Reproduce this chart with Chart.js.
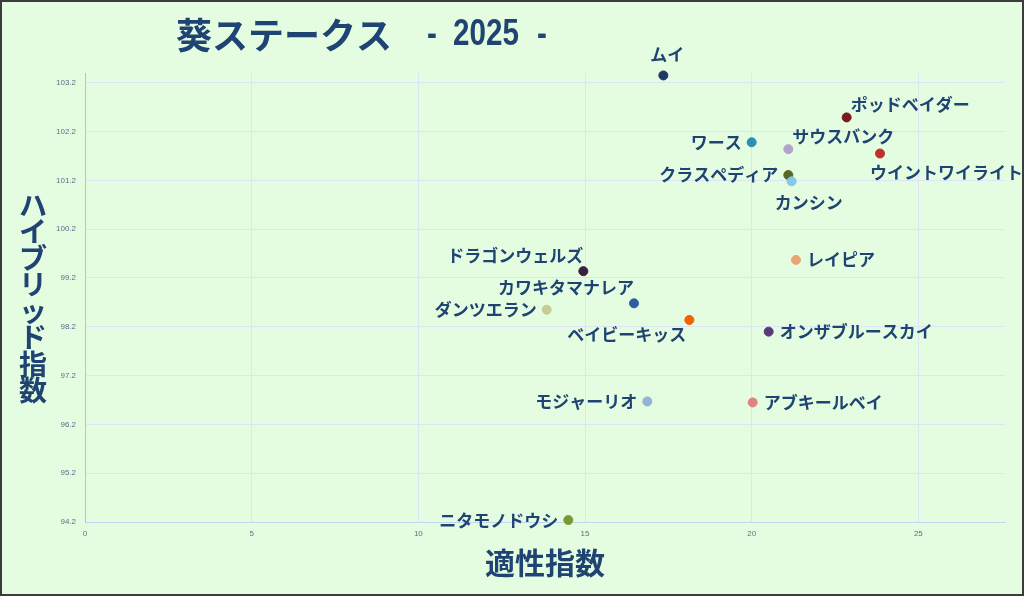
<!DOCTYPE html>
<html>
<head>
<meta charset="utf-8">
<script src="https://cdn.jsdelivr.net/npm/chart.js@4.4.1/dist/chart.umd.min.js"></script>
<style>
  html, body { margin: 0; padding: 0; background: #e4fde0; }
  canvas { display: block; }
</style>
</head>
<body>
<canvas id="myChart" width="1024" height="596"></canvas>
<script>
"use strict";

// data
const horses = ['ムイ', 'ポッドベイダー', 'ワース', 'サウスバンク', 'ウイントワイライト', 'クラスペディア',
  'カンシン', 'ドラゴンウェルズ', 'レイピア', 'カワキタマナレア', 'ダンツエラン', 'ベイビーキッス',
  'オンザブルースカイ', 'モジャーリオ', 'アブキールベイ', 'ニタモノドウシ']
const aptitude = [17.35, 22.85, 20.0, 21.1, 23.85, 21.1, 21.2, 14.95, 21.33, 16.47, 13.85, 18.13, 20.51, 16.87, 20.03, 14.5]
const hybrid = [103.35, 102.49, 101.98, 101.84, 101.75, 101.31, 101.18, 99.34, 99.57, 98.68, 98.55, 98.34, 98.10, 96.67, 96.65, 94.24]
const xTicks = [0, 5, 10, 15, 20, 25]
const yTicks = [94.2, 95.2, 96.2, 97.2, 98.2, 99.2, 100.2, 101.2, 102.2, 103.2]

const dotColors = ['#1f3864', '#7b1a1a', '#2a8fb8', '#b3a2cc', '#c0302a', '#55682a',
  '#86c8e6', '#3a1f3e', '#eba473', '#2e5e9e', '#c5cd93', '#f26200',
  '#5a3a78', '#92b2d8', '#da8580', '#7a9a30']
// where each name sits around its dot
const labelSide = ['n', 'ne', 'w', 'ne', 'se', 'w', 's', 'nw', 'e', 'nw', 'w', 'sw', 'e', 'w', 'e', 'w']

const navy = '#1f4372'

const my_data = {
  datasets: [{
    data: aptitude.map((x, i) => ({ x: x, y: hybrid[i] })),
    pointBackgroundColor: dotColors,
    pointBorderColor: dotColors,
    pointRadius: 4.5,
    pointHoverRadius: 4.5,
    clip: false
  }]
}

// background, frame, title and vertical y title
const decor = {
  id: 'decor',
  beforeDraw(chart) {
    const ctx = chart.ctx
    ctx.save()
    ctx.fillStyle = '#e4fde0'
    ctx.fillRect(0, 0, chart.width, chart.height)
    ctx.restore()
  },
  afterDraw(chart) {
    const ctx = chart.ctx
    ctx.save()
    ctx.strokeStyle = '#3c3c3c'
    ctx.lineWidth = 2
    ctx.strokeRect(1, 1, chart.width - 2, chart.height - 2)

    ctx.fillStyle = navy
    ctx.textBaseline = 'middle'
    ctx.textAlign = 'left'
    ctx.font = 'bold 36px "Noto Sans CJK JP"'
    ctx.fillText('葵ステークス', 176, 35)

    // narrow digits for "- 2025 -"
    ctx.font = 'bold 37px "Liberation Sans"'
    const narrow = (txt, x) => {
      ctx.save()
      ctx.translate(x, 35)
      ctx.scale(0.8, 1)
      ctx.fillText(txt, 0, 0)
      ctx.restore()
    }
    narrow('-', 427)
    narrow('2025', 453)
    narrow('-', 537)

    ctx.textAlign = 'center'
    ctx.font = 'bold 28px "Noto Sans CJK JP"'
    const chars = Array.from('ハイブリッド指数')
    chars.forEach((c, i) => ctx.fillText(c, 33, 205 + i * 26.5))
    ctx.restore()
  }
}

// names next to the dots
const names = {
  id: 'names',
  afterDatasetsDraw(chart) {
    const ctx = chart.ctx
    const pts = chart.getDatasetMeta(0).data
    ctx.save()
    ctx.fillStyle = navy
    ctx.font = 'bold 17px "Noto Sans CJK JP"'
    ctx.textBaseline = 'middle'
    pts.forEach((p, i) => {
      let x = p.x, y = p.y, align = 'left'
      switch (labelSide[i]) {
        case 'e': x += 11; break
        case 'w': x -= 10; align = 'right'; break
        case 'n': x += 4; y -= 21; align = 'center'; break
        case 's': x += 17; y += 21; align = 'center'; break
        case 'ne': x += 4; y -= 13; break
        case 'se': x -= 10; y += 19; break
        case 'nw': y -= 16; align = 'right'; break
        case 'sw': x -= 3; y += 15; align = 'right'; break
      }
      ctx.textAlign = align
      ctx.fillText(horses[i], x, y)
    })
    ctx.restore()
  }
}

const tickFont = { family: '"Liberation Sans", sans-serif', size: 8 }

const config = {
  type: 'scatter',
  data: my_data,
  plugins: [decor, names],
  options: {
    responsive: false,
    animation: false,
    layout: { padding: { top: 73, right: 19, left: 0, bottom: 0 } },
    plugins: {
      legend: { display: false },
      tooltip: { enabled: false },
      title: { display: false }
    },
    scales: {
      x: {
        type: 'linear',
        min: 0,
        max: 27.6,
        afterBuildTicks: s => { s.ticks = xTicks.map(v => ({ value: v })) },
        afterFit: s => { s.height = 74 },
        grid: { color: '#dbe5f6', lineWidth: 1, drawTicks: false },
        border: { color: '#c3d6f0' },
        ticks: { color: '#5a6f88', font: tickFont, padding: 7 },
        title: {
          display: true,
          text: '適性指数',
          color: navy,
          font: { family: '"Noto Sans CJK JP"', size: 30, weight: 'bold' },
          padding: { top: 0, bottom: 15 }
        }
      },
      y: {
        type: 'linear',
        min: 94.2,
        max: 103.4,
        afterBuildTicks: s => { s.ticks = yTicks.map(v => ({ value: v })) },
        afterFit: s => { s.width = 85 },
        grid: { color: '#dbe5f6', lineWidth: 1, drawTicks: false },
        border: { color: '#a9c4ec' },
        ticks: { color: '#5a6f88', font: tickFont, padding: 9, callback: v => v.toFixed(1) }
      }
    }
  }
}

const my_chart = new Chart(document.getElementById('myChart'), config)
</script>
</body>
</html>
